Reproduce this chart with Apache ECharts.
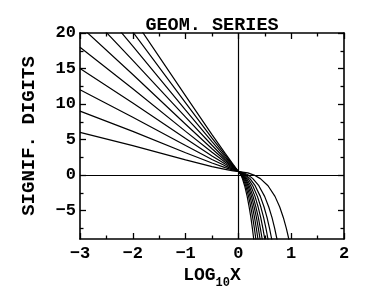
<!DOCTYPE html>
<html>
<head>
<meta charset="utf-8">
<script src="https://cdn.jsdelivr.net/npm/echarts@6/dist/echarts.min.js"></script>
<style>
html,body{margin:0;padding:0;background:#fff;}
#chart{width:374px;height:286px;}
</style>
</head>
<body>
<div id="chart"></div>
<script>
// ---- data ----
const titleText = 'GEOM. SERIES';
const yAxisTitle = 'SIGNIF. DIGITS';
const xTickValues = [-3, -2, -1, 0, 1, 2];
const yTickValues = [-5, 0, 5, 10, 15, 20];
const yMinorTickValues = [-7.5, -2.5, 2.5, 7.5, 12.5, 17.5];

// left branch: sample x positions and y values of each curve
const leftX = [-3, -2, -1, -0.5, -0.25, -0.1, 0];
const leftY_a = [6.0, 4.15, 2.15, 1.2, 0.8, 0.6, 0.5];
const leftY_b = [9.0, 6.15, 3.15, 1.7, 1.05, 0.7, 0.5];
const leftY_c = [12.0, 8.15, 4.15, 2.2, 1.3, 0.8, 0.5];
const leftY_d = [15.0, 10.15, 5.15, 2.7, 1.55, 0.9, 0.5];
const leftY_e = [18.0, 12.15, 6.15, 3.2, 1.8, 1.0, 0.5];
const leftY_f = [21.0, 14.15, 7.15, 3.7, 2.05, 1.1, 0.5];
const leftY_g = [24.0, 16.15, 8.15, 4.2, 2.3, 1.2, 0.5];
const leftY_h = [27.0, 18.15, 9.15, 4.7, 2.55, 1.3, 0.5];
const leftY_i = [30.0, 20.15, 10.15, 5.2, 2.8, 1.4, 0.5];
const leftY_j = [33.0, 22.15, 11.15, 5.7, 3.05, 1.5, 0.5];

// right branch: sample y levels and x positions of each curve
const rightY = [0.3, 0, -0.5, -1.5, -3, -4.5, -6, -7.5, -9, -10.5];
const rightX_a = [0.179, 0.296, 0.416, 0.561, 0.693, 0.783, 0.852, 0.908, 0.955, 0.996];
const rightX_b = [0.106, 0.186, 0.273, 0.387, 0.497, 0.575, 0.637, 0.687, 0.730, 0.767];
const rightX_c = [0.082, 0.146, 0.219, 0.317, 0.415, 0.486, 0.543, 0.590, 0.630, 0.665];
const rightX_d = [0.067, 0.121, 0.184, 0.271, 0.360, 0.425, 0.478, 0.522, 0.560, 0.593];
const rightX_e = [0.056, 0.102, 0.156, 0.233, 0.314, 0.374, 0.423, 0.464, 0.500, 0.532];
const rightX_f = [0.047, 0.087, 0.135, 0.204, 0.277, 0.332, 0.378, 0.416, 0.450, 0.480];
const rightX_g = [0.041, 0.076, 0.119, 0.181, 0.248, 0.299, 0.342, 0.378, 0.410, 0.438];
const rightX_h = [0.036, 0.066, 0.104, 0.159, 0.220, 0.267, 0.306, 0.340, 0.370, 0.397];
const rightX_i = [0.030, 0.057, 0.089, 0.138, 0.193, 0.235, 0.271, 0.303, 0.330, 0.355];
const rightX_j = [0.025, 0.048, 0.076, 0.118, 0.166, 0.204, 0.237, 0.265, 0.290, 0.313];

const leftYs = [leftY_a, leftY_b, leftY_c, leftY_d, leftY_e, leftY_f, leftY_g, leftY_h, leftY_i, leftY_j];
const rightXs = [rightX_a, rightX_b, rightX_c, rightX_d, rightX_e, rightX_f, rightX_g, rightX_h, rightX_i, rightX_j];

// ---- chart ----
const FONT = '"Liberation Mono", "Courier New", monospace';
const minus = v => String(v).replace('-', '\u2212');

const series = leftYs.map((ly, i) => ({
  type: 'line',
  xAxisIndex: 0, yAxisIndex: 0,
  showSymbol: false,
  symbol: 'none',
  silent: true,
  lineStyle: { color: '#000', width: 1.2 },
  data: leftX.map((x, j) => [x, ly[j]]).concat(rightY.map((y, j) => [rightXs[i][j], y]))
}));
series.push({
  type: 'line', data: [], xAxisIndex: 0, yAxisIndex: 0,
  markLine: {
    silent: true, symbol: 'none', label: { show: false },
    lineStyle: { color: '#000', width: 1.2, type: 'solid' },
    data: [{ xAxis: 0 }, { yAxis: 0 }]
  }
});

function xAx(pos, labels) {
  return {
    type: 'value', position: pos, min: -3, max: 2, interval: 1,
    axisLine: { show: true, onZero: false, lineStyle: { color: '#000', width: 1.6 } },
    axisTick: { show: true, inside: true, length: 6, lineStyle: { color: '#000', width: 1.3 } },
    minorTick: { show: true, splitNumber: 2, length: 3.5, lineStyle: { color: '#000', width: 1.3 } },
    axisLabel: { show: labels, formatter: minus, margin: 6, color: '#000', fontFamily: FONT, fontWeight: 'bold', fontSize: 17 },
    splitLine: { show: false },
    name: labels ? '{m|LOG}{s|10}{m|X}' : '',
    nameLocation: 'middle', nameGap: 26,
    nameTextStyle: {
      rich: {
        m: { fontFamily: FONT, fontWeight: 'bold', fontSize: 18, color: '#000', verticalAlign: 'top' },
        s: { fontFamily: FONT, fontWeight: 'bold', fontSize: 12, color: '#000', verticalAlign: 'top', padding: [10, 0, 0, 0] }
      }
    }
  };
}
function yAx(pos, vals, len, labels, line) {
  return {
    type: 'value', position: pos, min: -9, max: 20,
    axisLine: { show: line, onZero: false, lineStyle: { color: '#000', width: 1.6 } },
    axisTick: { show: true, inside: true, length: len, customValues: vals, lineStyle: { color: '#000', width: 1.3 } },
    axisLabel: { show: labels, customValues: vals, formatter: minus, margin: 4, color: '#000', fontFamily: FONT, fontWeight: 'bold', fontSize: 17 },
    splitLine: { show: false },
    name: labels ? yAxisTitle : '',
    nameLocation: 'middle', nameGap: 41, nameRotate: 90,
    nameTextStyle: { fontFamily: FONT, fontWeight: 'bold', fontSize: 19, color: '#000' }
  };
}

const chart = echarts.init(document.getElementById('chart'), null, { renderer: 'canvas' });
chart.setOption({
  animation: false,
  backgroundColor: '#fff',
  title: {
    text: titleText, left: 207, top: 11, textAlign: 'center',
    textStyle: { fontFamily: FONT, fontWeight: 'bold', fontSize: 18.5, color: '#000' }
  },
  grid: { left: 80, right: 30, top: 33, bottom: 47, containLabel: false, outerBoundsMode: 'none' },
  xAxis: [xAx('bottom', true), xAx('top', false)],
  yAxis: [
    yAx('left', yTickValues, 6, true, true),
    yAx('left', yMinorTickValues, 3.5, false, false),
    yAx('right', yTickValues, 6, false, true),
    yAx('right', yMinorTickValues, 3.5, false, false)
  ],
  series: series
});
</script>
</body>
</html>
